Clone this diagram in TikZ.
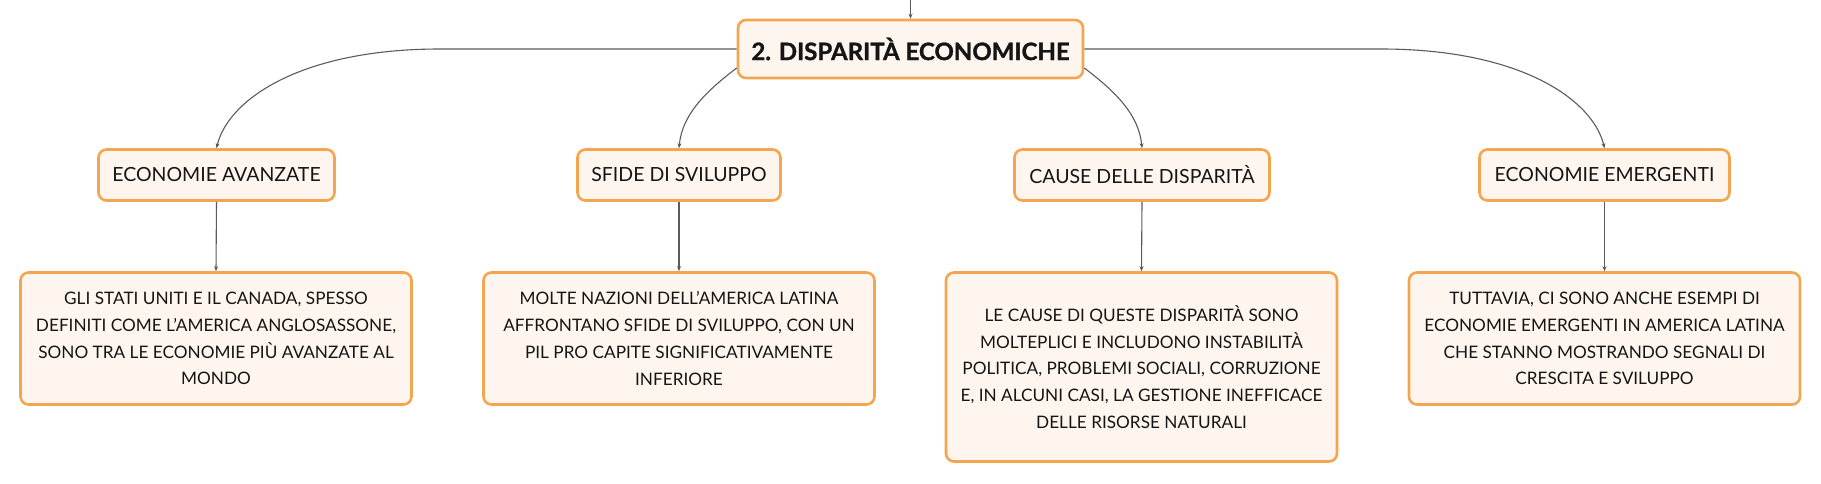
\documentclass[tikz,border=0pt]{standalone}
\usepackage{fontspec}
\setmainfont{Lato}
\usetikzlibrary{arrows.meta}
\definecolor{boxline}{HTML}{F3A64F}
\definecolor{boxfill}{HTML}{FEF6EE}
\definecolor{conn}{HTML}{5B5B5B}
\definecolor{txt}{HTML}{151515}
\tikzset{
  basebox/.style={draw=boxline, fill=boxfill, line width=2.6pt, rounded corners=8pt,
    text=txt, align=center, inner sep=0pt},
  rootbox/.style={basebox, minimum width=345pt, minimum height=58pt,
    font=\fontsize{24}{28}\selectfont\bfseries\addfontfeatures{FakeBold=1.2}},
  topicbox/.style={basebox, minimum height=51pt, font=\fontsize{19.5}{23}\selectfont},
  detailbox/.style={basebox, minimum width=391pt, font=\fontsize{17.2}{26.7}\selectfont},
  link/.style={draw=conn, line width=1.1pt, -{Stealth[length=5pt,width=4pt]}}
}
\begin{document}
\begin{tikzpicture}[x=1pt,y=-1pt]
\useasboundingbox (0,0) rectangle (1821,483);
\fill[white] (0,0) rectangle (1821,483);

\node[rootbox] (root) at (910.5,49) {2. DISPARITÀ ECONOMICHE};

\node[topicbox, minimum width=236pt] (e1) at (216.5,175) {ECONOMIE AVANZATE};
\node[topicbox, minimum width=203pt] (e2) at (679,175) {SFIDE DI SVILUPPO};
\node[topicbox, minimum width=255pt] (e3) at (1142,175) {CAUSE DELLE DISPARITÀ};
\node[topicbox, minimum width=250pt] (e4) at (1604.5,175) {ECONOMIE EMERGENTI};

\node[detailbox, minimum height=132pt] (d1) at (216,338.5) {GLI STATI UNITI E IL CANADA, SPESSO\\DEFINITI COME L’AMERICA ANGLOSASSONE,\\SONO TRA LE ECONOMIE PIÙ AVANZATE AL\\MONDO};
\node[detailbox, minimum height=132pt] (d2) at (679,338.5) {MOLTE NAZIONI DELL’AMERICA LATINA\\AFFRONTANO SFIDE DI SVILUPPO, CON UN\\PIL PRO CAPITE SIGNIFICATIVAMENTE\\INFERIORE};
\node[detailbox, minimum height=189pt] (d3) at (1141.5,367) {LE CAUSE DI QUESTE DISPARITÀ SONO\\MOLTEPLICI E INCLUDONO INSTABILITÀ\\POLITICA, PROBLEMI SOCIALI, CORRUZIONE\\E, IN ALCUNI CASI, LA GESTIONE INEFFICACE\\DELLE RISORSE NATURALI};
\node[detailbox, minimum height=132pt] (d4) at (1604.5,338.5) {TUTTAVIA, CI SONO ANCHE ESEMPI DI\\ECONOMIE EMERGENTI IN AMERICA LATINA\\CHE STANNO MOSTRANDO SEGNALI DI\\CRESCITA E SVILUPPO};

\coordinate (topin) at (910.5,0);
\draw[link] (topin) -- (root.north);

\draw[link] (root.west) -- (440,49) .. controls (300,49) and (228,100) .. (e1.north);
\draw[link] ([yshift=-19pt]root.west) .. controls (705,92) and (682,115) .. (e2.north);
\draw[link] ([yshift=-19pt]root.east) .. controls (1116,92) and (1139,115) .. (e3.north);
\draw[link] (root.east) -- (1381,49) .. controls (1521,49) and (1593,100) .. (e4.north);

\draw[link] (e1.south) -- (d1.north);
\draw[link] (e2.south) -- (d2.north);
\draw[link] (e3.south) -- (d3.north);
\draw[link] (e4.south) -- (d4.north);
\end{tikzpicture}
\end{document}
